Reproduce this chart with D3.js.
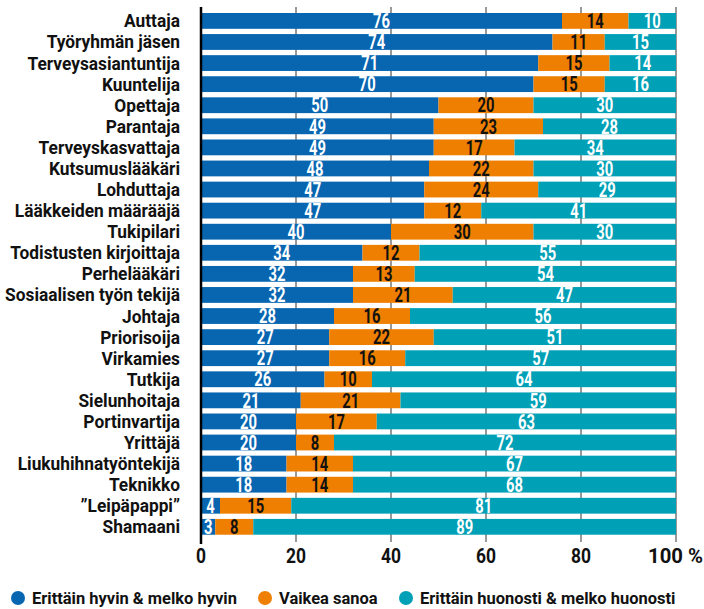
<!DOCTYPE html>
<html>
<head>
<meta charset="utf-8">
<script src="https://d3js.org/d3.v7.min.js"></script>
<style>
  body { margin: 0; background: #fff; }
  svg text { font-family: Roboto, "DejaVu Sans Condensed", sans-serif; font-weight: bold; }
</style>
</head>
<body>
<svg id="chart" width="704" height="609"></svg>
<script>
// data
const categories = ['Auttaja', 'Työryhmän jäsen', 'Terveysasiantuntija', 'Kuuntelija', 'Opettaja',
  'Parantaja', 'Terveyskasvattaja', 'Kutsumuslääkäri', 'Lohduttaja', 'Lääkkeiden määrääjä',
  'Tukipilari', 'Todistusten kirjoittaja', 'Perhelääkäri', 'Sosiaalisen työn tekijä', 'Johtaja',
  'Priorisoija', 'Virkamies', 'Tutkija', 'Sielunhoitaja', 'Portinvartija', 'Yrittäjä',
  'Liukuhihnatyöntekijä', 'Teknikko', '”Leipäpappi”', 'Shamaani'];
const hyvin = [76, 74, 71, 70, 50, 49, 49, 48, 47, 47, 40, 34, 32, 32, 28, 27, 27, 26, 21, 20, 20, 18, 18, 4, 3];
const vaikea = [14, 11, 15, 15, 20, 23, 17, 22, 24, 12, 30, 12, 13, 21, 16, 22, 16, 10, 21, 17, 8, 14, 14, 15, 8];
const huonosti = [10, 15, 14, 16, 30, 28, 34, 30, 29, 41, 30, 55, 54, 47, 56, 51, 57, 64, 59, 63, 72, 67, 68, 81, 89];
const seriesNames = ['Erittäin hyvin & melko hyvin', 'Vaikea sanoa', 'Erittäin huonosti & melko huonosti'];
const colors = ['#0866b1', '#ef7f00', '#00a0b6'];
const textColors = ['#fff', '#111', '#fff'];
const xTicks = [0, 20, 40, 60, 80, 100];

const svg = d3.select('#chart');
const plotLeft = 201, plotRight = 676, step = 21.08;
const bandTop = 13 - step * 0.125;

const x = d3.scaleLinear().domain([0, 100]).range([plotLeft, plotRight]);
const y = d3.scaleBand().domain(categories)
  .range([bandTop, bandTop + step * categories.length])
  .paddingInner(0.25).paddingOuter(0.125);

// squeeze text horizontally so a sample string gets the wanted width
function squeeze(sel, sample, size, target) {
  const t = svg.append('text').attr('font-size', size).text(sample);
  const s = target / t.node().getComputedTextLength();
  t.remove();
  sel.each(function () {
    const el = d3.select(this);
    const tx = +el.attr('x') || 0, ty = +el.attr('y') || 0;
    el.attr('x', 0).attr('y', 0).attr('transform', `translate(${tx},${ty}) scale(${s},1)`);
  });
}

// grid
svg.append('g').selectAll('line').data(xTicks.slice(1)).join('line')
  .attr('x1', d => x(d)).attr('x2', d => x(d))
  .attr('y1', 7).attr('y2', 542)
  .attr('stroke', '#777').attr('stroke-width', 1.5);

// rows
const rows = categories.map((c, i) => {
  const vals = [hyvin[i], vaikea[i], huonosti[i]];
  let acc = 0;
  return vals.map((v, j) => {
    const s = acc; acc += v;
    const e = j === 2 ? 100 : acc;
    return { cat: c, v, s, e, j };
  });
}).flat();

const g = svg.append('g');
g.selectAll('rect').data(rows).join('rect')
  .attr('x', d => x(d.s)).attr('width', d => x(d.e) - x(d.s))
  .attr('y', d => y(d.cat)).attr('height', y.bandwidth())
  .attr('fill', d => colors[d.j]);

const vals = g.selectAll('text.val').data(rows).join('text')
  .attr('class', 'val')
  .attr('x', d => (x(d.s) + x(d.e)) / 2)
  .attr('y', d => y(d.cat) + y.bandwidth() / 2)
  .attr('dy', '0.36em')
  .attr('text-anchor', 'middle')
  .attr('font-size', 20)
  .attr('fill', d => textColors[d.j])
  .text(d => d.v);
squeeze(vals, '14', 20, 17);

// category labels
const labels = svg.append('g').selectAll('text').data(categories).join('text')
  .attr('x', 180)
  .attr('y', d => y(d) + y.bandwidth() / 2)
  .attr('dy', '0.36em')
  .attr('text-anchor', 'end')
  .attr('font-size', 18)
  .attr('fill', '#111')
  .text(d => d);
squeeze(labels, 'Sosiaalisen työn tekijä', 18, 175);

// axis line
svg.append('line').attr('x1', plotLeft).attr('x2', plotLeft).attr('y1', 7).attr('y2', 544)
  .attr('stroke', '#000').attr('stroke-width', 2.5);

// tick labels
const ticks = svg.append('g').selectAll('text').data(xTicks).join('text')
  .attr('x', d => d === 100 ? x(d) - 28 : x(d))
  .attr('y', 563)
  .attr('text-anchor', d => d === 100 ? 'start' : 'middle')
  .attr('font-size', 21)
  .attr('fill', '#111')
  .text(d => d === 100 ? '100 %' : d);
squeeze(ticks.filter(d => d !== 100), '80', 21, 20);
squeeze(ticks.filter(d => d === 100), '100 %', 21, 55);

// legend
const legendX = [18, 265, 406];
const lg = svg.append('g').selectAll('g').data(seriesNames).join('g')
  .attr('transform', (d, i) => `translate(${legendX[i]},598)`);
lg.append('circle').attr('r', 7).attr('fill', (d, i) => colors[i]);
const lt = lg.append('text').attr('x', 14).attr('dy', '0.36em').attr('font-size', 17).attr('fill', '#111').text(d => d);
squeeze(lt, seriesNames[0], 17, 205);
</script>
</body>
</html>
